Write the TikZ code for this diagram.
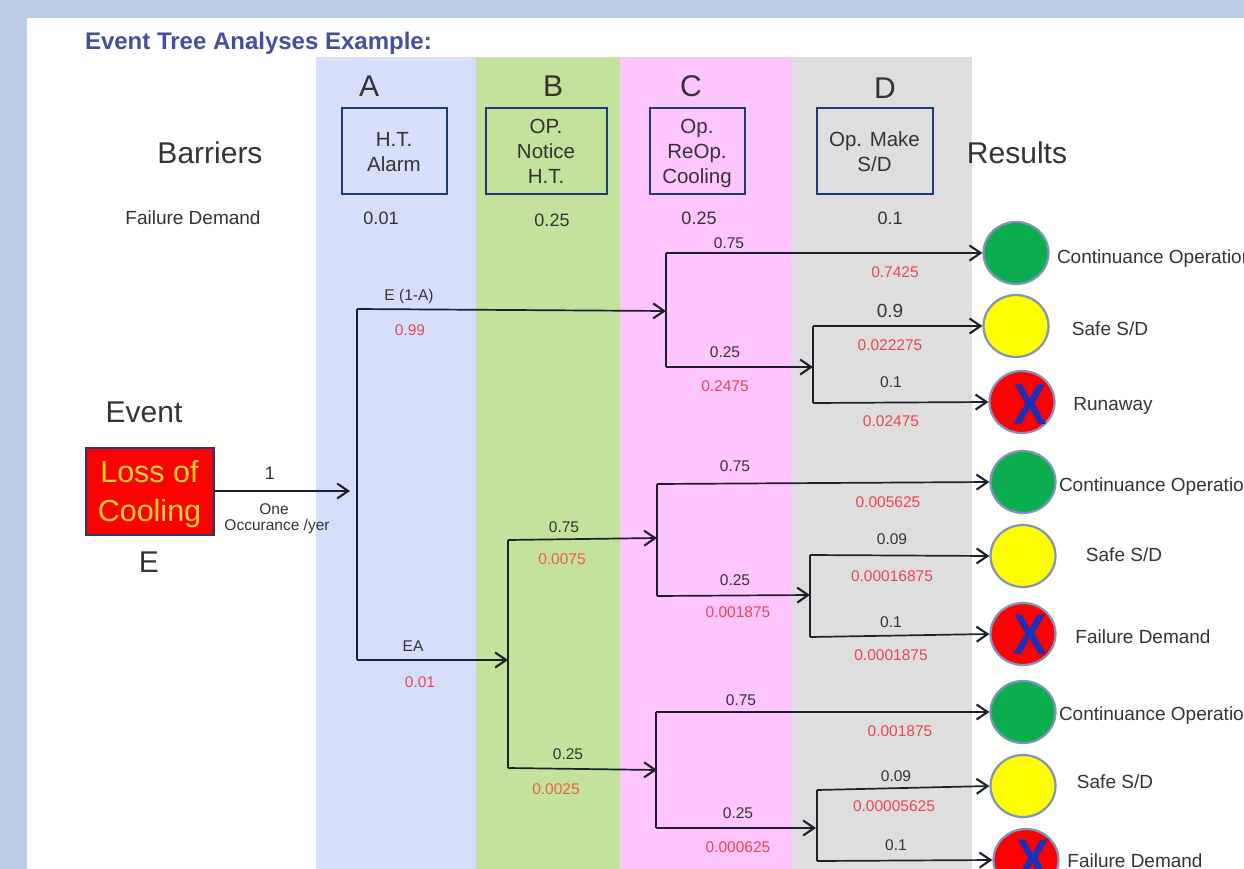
\documentclass[tikz,border=0pt]{standalone}
\usepackage{fontspec}
\setmainfont{Liberation Sans}
\usetikzlibrary{arrows.meta,shapes.geometric}
\definecolor{pageblue}{HTML}{B8CDE4}
\definecolor{colA}{HTML}{D6DFF9}
\definecolor{colB}{HTML}{C3E29C}
\definecolor{colC}{HTML}{FFC5FF}
\definecolor{colD}{HTML}{DEDEDE}
\definecolor{titleblue}{HTML}{44509F}
\definecolor{boxblue}{HTML}{1F3A78}
\definecolor{probred}{HTML}{E8474F}
\definecolor{proborange}{HTML}{EC6240}
\definecolor{ink}{HTML}{333333}
\definecolor{lineink}{HTML}{1C2028}
\definecolor{rim}{HTML}{8093BC}
\definecolor{xblue}{HTML}{1B2FB8}
\definecolor{okgreen}{HTML}{0BAE4E}
\definecolor{safeyellow}{HTML}{FFFF00}
\definecolor{badred}{HTML}{FF0000}
\definecolor{losstext}{HTML}{FFD030}
\newcommand{\fs}[1]{\fontsize{#1}{#1}\selectfont}
\newcommand{\tallX}{\scalebox{1}[1.15]{X}}
\tikzset{
  lab/.style={inner sep=0pt,outer sep=0pt,text=ink,anchor=center},
  big/.style={lab,font=\fs{30}},
  mid/.style={lab,font=\fs{19}},
  num/.style={lab,font=\fs{18}},
  small/.style={lab,font=\fs{15.5}},
  prob/.style={lab,font=\fs{15.5},text=probred},
  probo/.style={lab,font=\fs{15.5},text=proborange},
  barrier/.style={draw=boxblue,line width=2pt,inner sep=0pt,outer sep=0pt,text=ink,align=center,font=\fontsize{20.5}{25}\selectfont,anchor=north west,text depth=-2pt},
  conn/.style={line width=1.7pt,draw=lineink},
  flow/.style={conn,-{Straight Barb[length=11pt,width=15pt,line width=2.1pt]}},
  result/.style={ellipse,draw=rim,line width=2.2pt,inner sep=0pt,minimum width=65pt,minimum height=62pt},
  okres/.style={result,fill=okgreen},
  saferes/.style={result,fill=safeyellow},
  badres/.style={result,fill=badred},
  xmark/.style={inner sep=0pt,text=xblue,font=\bfseries\fs{50}},
  tag/.style={lab,font=\fs{19}},
}
\begin{document}
\begin{tikzpicture}[x=1pt,y=-1pt]
\useasboundingbox (0,0) rectangle (1244,869);
\clip (0,0) rectangle (1244,869);
% page
\fill[pageblue] (0,0) rectangle (1244,869);
\fill[white] (27,18) rectangle (1244,869);
\fill[colA] (316,57) rectangle (476,869);
\fill[colB] (476,57) rectangle (620,869);
\fill[colC] (620,57) rectangle (792,869);
\fill[colD] (792,57) rectangle (972,869);
% headings
\node[lab,anchor=west,text=titleblue,font=\bfseries\fs{24}] (title) at (85,43) {Event Tree Analyses Example:};
\node[big] (hA) at (369,86) {A};
\node[big] (hB) at (553,86) {B};
\node[big] (hC) at (691,86) {C};
\node[big] (hD) at (885,88) {D};
\node[big] (barriers) at (210,153) {Barriers};
\node[big] (results) at (1017,153) {Results};
\node[big] (event) at (144,412) {Event};
\node[big] (eE) at (149,562) {E};
\node[barrier,minimum width=105pt,minimum height=86pt] (bA) at (341.5,108.5) {H.T.\\Alarm};
\node[barrier,minimum width=121pt,minimum height=86pt] (bB) at (485.5,108.5) {OP.\\Notice\\H.T.};
\node[barrier,minimum width=95pt,minimum height=86pt] (bC) at (649.5,108.5) {Op.\\ReOp.\\Cooling};
\node[barrier,minimum width=116pt,minimum height=86pt] (bD) at (816.5,108.5) {Op. Make\\S/D};
\node[lab,font=\fs{19}] (fd) at (193,218) {Failure Demand};
\node[num] (pA) at (381,218) {0.01};
\node[num] (pB) at (552,220) {0.25};
\node[num] (pC) at (699,218) {0.25};
\node[num] (pD) at (890,218) {0.1};
% initiating event
\node[draw=boxblue,line width=2pt,fill=badred,text=losstext,inner sep=0pt,outer sep=0pt,anchor=north west,minimum width=128pt,minimum height=87pt,align=center,text depth=0pt,font=\fontsize{30.5}{39}\selectfont] (loss) at (85.5,447.5) {Loss of\\Cooling};
\node[num] (one) at (270,473) {1};
\node[small] (oneA) at (274,509) {One};
\node[small] (oneB) at (277,526) {Occurance /yer};
% results
\node[okres] (r1) at (1016,253) {};
\node[saferes] (r2) at (1016,326) {};
\node[badres] (r3) at (1022,402) {};
\node[okres] (r4) at (1023,482) {};
\node[saferes] (r5) at (1023,556) {};
\node[badres] (r6) at (1023,634) {};
\node[okres] (r7) at (1023,712) {};
\node[saferes] (r8) at (1023,786) {};
\node[badres] (r9) at (1026,860) {};
\node[xmark] (x3) at (1030,405) {\tallX};
\node[xmark] (x6) at (1030,635) {\tallX};
\node[xmark] (x9) at (1033,860) {\tallX};
\node[tag,anchor=west] (t1) at (1057,259) {Continuance Operation};
\node[tag] (t2) at (1110,329) {Safe S/D};
\node[tag] (t3) at (1113,406) {Runaway};
\node[tag,anchor=west] (t4) at (1059,487) {Continuance Operation};
\node[tag] (t5) at (1124,555) {Safe S/D};
\node[tag] (t6) at (1143,637) {Failure Demand};
\node[tag,anchor=west] (t7) at (1059,716) {Continuance Operation};
\node[tag] (t8) at (1115,782) {Safe S/D};
\node[tag] (t9) at (1135,861) {Failure Demand};
% junctions
\coordinate (a) at (357,491);
\coordinate (aU) at (357,309);
\coordinate (aL) at (357,660);
\coordinate (c1) at (666,311);
\coordinate (c1U) at (666,253);
\coordinate (c1L) at (666,367);
\coordinate (d1) at (813,367);
\coordinate (d1U) at (813,326);
\coordinate (d1L) at (813,403);
\coordinate (b) at (508,660);
\coordinate (bU) at (508,540);
\coordinate (bL) at (508,768);
\coordinate (c2) at (657,538);
\coordinate (c2U) at (657,484);
\coordinate (c2L) at (657,596);
\coordinate (d2) at (810,595);
\coordinate (d2U) at (810,555);
\coordinate (d2L) at (810,637);
\coordinate (c3) at (657,770);
\coordinate (c3U) at (656,712);
\coordinate (c3L) at (656,828);
\coordinate (d3) at (816,828);
\coordinate (d3U) at (817,790);
\coordinate (d3L) at (817,861);
% connectors
\draw[flow,shorten >=7pt] (loss.east |- a) -- (a);
\draw[conn] (aU) -- (aL);
\draw[flow] (aU) -- (c1);
\draw[flow] (aL) -- (b);
\draw[conn] (c1U) -- (c1L);
\draw[flow] (c1U) -- (r1.west);
\draw[flow] (c1L) -- (d1);
\draw[conn] (d1U) -- (d1L);
\draw[flow] (d1U) -- (r2.west);
\draw[flow] (d1L) -- (r3.west);
\draw[conn] (bU) -- (bL);
\draw[flow] (bU) -- (c2);
\draw[flow] (bL) -- (c3);
\draw[conn] (c2U) -- (c2L);
\draw[flow] (c2U) -- (r4.west);
\draw[flow] (c2L) -- (d2);
\draw[conn] (d2U) -- (d2L);
\draw[flow] (d2U) -- (r5.west);
\draw[flow] (d2L) -- (r6.west);
\draw[conn] (c3U) -- (c3L);
\draw[flow] (c3U) -- (r7.west);
\draw[flow] (c3L) -- (d3);
\draw[conn] (d3U) -- (d3L);
\draw[flow] (d3U) -- (r8.west);
\draw[flow] (d3L) -- (r9.west);
% branch labels
\node[small] (l1) at (409,296) {E (1-A)};
\node[prob] (l2) at (410,330) {0.99};
\node[small] (l3) at (413,646) {EA};
\node[prob] (l4) at (420,682) {0.01};
\node[small] (l5) at (729,243) {0.75};
\node[prob] (l6) at (895,272) {0.7425};
\node[mid] (l7) at (890,311) {0.9};
\node[prob] (l8) at (890,345) {0.022275};
\node[small] (l9) at (725,352) {0.25};
\node[prob] (l10) at (725,386) {0.2475};
\node[small] (l11) at (891,382) {0.1};
\node[prob] (l12) at (891,421) {0.02475};
\node[small] (l13) at (735,466) {0.75};
\node[prob] (l14) at (888,502) {0.005625};
\node[small] (l15) at (892,539) {0.09};
\node[prob] (l16) at (892,576) {0.00016875};
\node[small] (l17) at (564,527) {0.75};
\node[probo] (l18) at (562,559) {0.0075};
\node[small] (l19) at (735,580) {0.25};
\node[prob] (l20) at (738,612) {0.001875};
\node[small] (l21) at (891,622) {0.1};
\node[prob] (l22) at (891,655) {0.0001875};
\node[small] (l23) at (741,700) {0.75};
\node[prob] (l24) at (900,731) {0.001875};
\node[small] (l25) at (896,776) {0.09};
\node[prob] (l26) at (894,806) {0.00005625};
\node[small] (l27) at (568,754) {0.25};
\node[probo] (l28) at (556,789) {0.0025};
\node[small] (l29) at (738,813) {0.25};
\node[prob] (l30) at (738,847) {0.000625};
\node[small] (l31) at (896,845) {0.1};
\end{tikzpicture}
\end{document}
